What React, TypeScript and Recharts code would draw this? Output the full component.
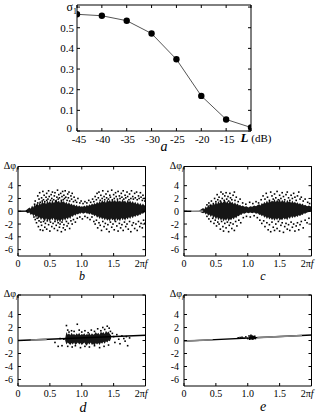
import React from 'react';
import { ComposedChart, LineChart, Line, Area, Scatter, XAxis, YAxis } from 'recharts';

type Pt = [number, number];
type Band = [number, number, number];

// panel a: sigma vs level
const levels = [-45, -40, -35, -30, -25, -20, -15, -10];
const sigma = [0.565, 0.558, 0.534, 0.472, 0.347, 0.17, 0.056, 0.017];
const levelTicks = [-45, -40, -35, -30, -25, -20, -15, -10];
const sigmaTicks = [0, 0.1, 0.2, 0.3, 0.4, 0.5, 0.6];

// panels b-e: phase error vs frequency
const freqTicks = [0, 0.5, 1, 1.5, 2];
const phaseTicks = [-6, -4, -2, 0, 2, 4, 7];

// dense cores of the clouds: [x, low, high]
const coreB: Band[] = [
  [0.12, -0.05, 0.1], [0.15, -0.3, 0.35], [0.18, -0.2, 0.6], [0.2, -0.6, 0.4], [0.22, -0.4, 0.9],
  [0.24, -0.8, 0.6], [0.26, -0.5, 1.1], [0.28, -1.0, 0.8], [0.3, -0.7, 1.3], [0.32, -1.2, 0.9],
  [0.34, -0.9, 1.4], [0.36, -1.4, 1.0], [0.38, -1.0, 1.6], [0.4, -1.3, 1.2], [0.42, -1.6, 1.5],
  [0.44, -1.1, 1.1], [0.46, -1.5, 1.7], [0.48, -1.2, 1.3], [0.5, -1.7, 1.6], [0.52, -1.1, 1.2],
  [0.54, -1.4, 1.8], [0.56, -1.0, 1.3], [0.58, -1.6, 1.5], [0.6, -1.2, 1.9], [0.62, -1.7, 1.4],
  [0.64, -1.3, 1.7], [0.66, -1.8, 1.3], [0.68, -1.2, 1.8], [0.7, -1.6, 1.4], [0.72, -1.1, 1.6],
  [0.74, -1.5, 1.2], [0.76, -1.0, 1.5], [0.78, -1.3, 1.1], [0.8, -0.9, 1.4], [0.82, -1.2, 1.0],
  [0.84, -0.7, 1.2], [0.86, -0.9, 0.9], [0.88, -0.5, 1.1], [0.9, -0.7, 0.8], [0.92, -0.4, 1.0],
  [0.94, -0.5, 0.7], [0.96, -0.3, 0.9], [0.98, -0.4, 0.7], [1.0, -0.2, 0.8], [1.02, -0.4, 0.7],
  [1.04, -0.3, 0.9], [1.06, -0.2, 0.7], [1.08, -0.4, 1.0], [1.1, -0.3, 0.8], [1.12, -0.5, 1.1],
  [1.14, -0.3, 0.9], [1.16, -0.6, 1.2], [1.18, -0.5, 1.0], [1.2, -0.8, 1.3], [1.22, -0.6, 1.1],
  [1.24, -1.0, 1.5], [1.26, -0.8, 1.2], [1.28, -1.2, 1.6], [1.3, -0.9, 1.3], [1.32, -1.3, 1.8],
  [1.34, -1.0, 1.4], [1.36, -1.4, 1.7], [1.38, -1.1, 1.3], [1.4, -1.5, 1.9], [1.42, -1.2, 1.5],
  [1.44, -1.6, 1.8], [1.46, -1.1, 1.4], [1.48, -1.4, 1.9], [1.5, -1.2, 1.5], [1.52, -1.7, 1.8],
  [1.54, -1.1, 1.4], [1.56, -1.5, 1.9], [1.58, -1.2, 1.5], [1.6, -1.6, 1.7], [1.62, -1.0, 1.4],
  [1.64, -1.4, 1.9], [1.66, -1.1, 1.5], [1.68, -1.5, 1.7], [1.7, -1.0, 1.3], [1.72, -1.3, 1.8],
  [1.74, -0.9, 1.4], [1.76, -1.2, 1.7], [1.78, -0.8, 1.3], [1.8, -1.1, 1.6], [1.82, -0.7, 1.2],
  [1.84, -0.9, 1.5], [1.86, -0.6, 1.1], [1.88, -0.8, 1.4], [1.9, -0.5, 1.0], [1.92, -0.6, 1.3],
  [1.94, -0.3, 0.9], [1.96, -0.4, 1.2], [1.98, -0.2, 0.9], [2.0, -0.1, 1.0],
];
const coreC: Band[] = [
  [0.24, -0.05, 0.1], [0.27, -0.2, 0.3], [0.3, -0.3, 0.5], [0.32, -0.2, 0.3], [0.34, -0.5, 0.8],
  [0.36, -0.3, 0.5], [0.38, -0.7, 1.0], [0.4, -0.5, 0.7], [0.42, -0.9, 1.2], [0.44, -0.6, 0.9],
  [0.46, -1.1, 1.3], [0.48, -0.8, 1.0], [0.5, -1.3, 1.5], [0.52, -0.9, 1.1], [0.54, -1.4, 1.6],
  [0.56, -1.0, 1.2], [0.58, -1.5, 1.7], [0.6, -1.1, 1.3], [0.62, -1.6, 1.5], [0.64, -1.2, 1.8],
  [0.66, -1.5, 1.3], [0.68, -1.1, 1.6], [0.7, -1.6, 1.2], [0.72, -1.2, 1.7], [0.74, -1.4, 1.3],
  [0.76, -1.0, 1.5], [0.78, -1.3, 1.1], [0.8, -0.9, 1.4], [0.82, -1.1, 1.0], [0.84, -0.7, 1.2],
  [0.86, -0.8, 0.9], [0.88, -0.5, 1.0], [0.9, -0.6, 0.8], [0.92, -0.3, 0.9], [0.95, -0.4, 0.7],
  [0.98, -0.2, 0.8], [1.01, -0.3, 0.6], [1.04, -0.2, 0.8], [1.07, -0.3, 0.7], [1.1, -0.2, 0.9],
  [1.13, -0.4, 0.8], [1.16, -0.3, 1.0], [1.18, -0.6, 1.1], [1.2, -0.5, 0.9], [1.22, -0.8, 1.3],
  [1.24, -0.6, 1.1], [1.26, -1.0, 1.5], [1.28, -0.8, 1.2], [1.3, -1.2, 1.7], [1.32, -0.9, 1.3],
  [1.34, -1.3, 1.8], [1.36, -1.0, 1.4], [1.38, -1.4, 1.7], [1.4, -1.1, 1.5], [1.42, -1.5, 1.9],
  [1.44, -1.1, 1.4], [1.46, -1.4, 1.8], [1.48, -1.0, 1.5], [1.5, -1.5, 1.9], [1.52, -1.2, 1.4],
  [1.54, -1.4, 1.8], [1.56, -1.0, 1.5], [1.58, -1.3, 1.7], [1.6, -1.1, 1.3], [1.62, -1.4, 1.8],
  [1.64, -0.9, 1.4], [1.66, -1.2, 1.6], [1.68, -0.8, 1.3], [1.7, -1.1, 1.7], [1.72, -0.8, 1.3],
  [1.74, -1.0, 1.5], [1.76, -0.7, 1.2], [1.78, -0.9, 1.4], [1.8, -0.6, 1.1], [1.82, -0.8, 1.3],
  [1.84, -0.5, 1.0], [1.86, -0.6, 1.2], [1.88, -0.3, 0.9], [1.9, -0.4, 1.0], [1.93, -0.2, 0.8],
  [1.96, -0.1, 0.9], [2.0, 0.0, 0.7],
];
const coreD: Band[] = [
  [0.74, 0.0, 0.3], [0.76, -0.6, 1.3], [0.78, -0.3, 0.9], [0.8, -0.5, 1.1], [0.82, -0.7, 0.8],
  [0.84, -0.4, 1.2], [0.86, -0.6, 0.9], [0.88, -0.3, 1.0], [0.9, -0.7, 0.8], [0.92, -0.5, 1.1],
  [0.94, -0.3, 0.9], [0.96, -0.6, 1.2], [0.98, -0.4, 0.8], [1.0, -0.7, 1.0], [1.02, -0.5, 0.9],
  [1.04, -0.3, 1.1], [1.06, -0.6, 0.8], [1.08, -0.8, 1.0], [1.1, -0.4, 0.9], [1.12, -0.6, 1.2],
  [1.14, -0.3, 0.8], [1.16, -0.7, 1.1], [1.18, -0.5, 0.9], [1.2, -0.9, 1.0], [1.22, -0.4, 1.3],
  [1.24, -0.6, 1.0], [1.26, -0.4, 1.2], [1.28, -0.7, 0.9], [1.3, -0.3, 1.4], [1.32, -0.5, 1.1],
  [1.34, -0.2, 1.3], [1.36, -0.5, 1.0], [1.38, -0.1, 1.5], [1.4, -0.3, 1.2], [1.42, 0.0, 1.4],
  [1.44, -0.1, 1.0], [1.46, 0.3, 0.8],
];
const coreE: Band[] = [
  [1.02, 0.3, 0.5], [1.04, 0.15, 0.75], [1.07, 0.1, 0.8], [1.1, 0.2, 0.7], [1.13, 0.35, 0.5],
];

// scattered outliers
const dotsB: Pt[] = [
  [0.26, 1.1], [0.27, 1.6], [0.29, 0.9], [0.31, 2.4], [0.31, 1.3], [0.33, 1.9], [0.34, 2.9], [0.35, 1.4],
  [0.37, 2.1], [0.38, 1.6], [0.39, 3.1], [0.40, 1.8], [0.41, 2.5], [0.42, 1.5], [0.44, 2.2], [0.45, 1.7],
  [0.45, 2.8], [0.47, 1.9], [0.48, 3.2], [0.49, 2.3], [0.51, 1.7], [0.52, 2.6], [0.53, 2.0], [0.54, 3.0],
  [0.56, 1.8], [0.57, 2.4], [0.58, 2.9], [0.59, 1.6], [0.61, 2.2], [0.62, 3.3], [0.63, 1.9], [0.64, 2.6],
  [0.65, 2.1], [0.67, 2.8], [0.68, 1.7], [0.69, 2.3], [0.70, 3.1], [0.71, 1.8], [0.72, 2.5], [0.73, 2.0],
  [0.74, 3.2], [0.75, 2.2], [0.77, 1.7], [0.78, 2.7], [0.79, 2.1], [0.80, 3.0], [0.81, 1.6], [0.83, 2.4],
  [0.84, 1.9], [0.85, 2.8], [0.87, 1.5], [0.88, 2.2], [0.90, 1.7], [0.92, 1.4], [0.94, 2.0], [0.97, 1.3],
  [0.99, 1.6], [1.02, 1.2], [1.05, 1.5], [1.08, 1.3], [1.11, 1.7], [1.14, 1.4], [1.17, 1.9], [1.19, 1.5],
  [1.21, 2.3], [1.23, 1.8], [1.24, 2.8], [1.26, 2.1], [1.27, 3.0], [1.29, 1.7], [1.30, 2.5], [1.32, 2.0],
  [1.33, 3.2], [1.35, 2.3], [1.36, 1.8], [1.38, 2.7], [1.39, 2.1], [1.41, 3.1], [1.42, 1.9], [1.44, 2.5],
  [1.45, 2.2], [1.47, 3.3], [1.48, 1.8], [1.50, 2.6], [1.51, 2.0], [1.53, 2.9], [1.54, 2.3], [1.56, 1.9],
  [1.57, 3.1], [1.59, 2.4], [1.60, 2.0], [1.62, 2.8], [1.63, 2.2], [1.65, 3.2], [1.66, 1.9], [1.68, 2.5],
  [1.69, 2.1], [1.71, 3.0], [1.72, 2.3], [1.74, 1.8], [1.75, 2.7], [1.77, 2.0], [1.78, 3.2], [1.80, 2.3],
  [1.81, 1.9], [1.83, 2.8], [1.84, 2.1], [1.86, 3.0], [1.87, 1.8], [1.89, 2.4], [1.90, 2.0], [1.92, 2.9],
  [1.93, 2.2], [1.95, 1.7], [1.96, 2.5], [1.98, 2.0], [1.99, 1.6],
  [0.25, -0.9], [0.27, -1.3], [0.29, -1.8], [0.30, -1.1], [0.32, -2.4], [0.33, -1.5], [0.35, -2.9],
  [0.36, -1.7], [0.37, -2.2], [0.39, -3.0], [0.40, -1.6], [0.42, -2.5], [0.43, -1.9], [0.45, -2.8],
  [0.46, -1.5], [0.48, -2.1], [0.50, -3.1], [0.51, -1.7], [0.53, -2.4], [0.55, -1.9], [0.57, -2.7],
  [0.58, -1.6], [0.60, -2.2], [0.62, -3.0], [0.63, -1.8], [0.65, -2.5], [0.66, -2.0], [0.68, -3.2],
  [0.69, -1.7], [0.71, -2.6], [0.72, -2.1], [0.74, -2.9], [0.76, -1.6], [0.77, -2.3], [0.79, -1.9],
  [0.81, -2.7], [0.83, -1.5], [0.85, -2.0], [0.87, -1.3], [0.90, -1.7], [0.93, -1.1], [0.97, -0.9],
  [1.01, -1.2], [1.05, -0.8], [1.09, -1.0], [1.13, -1.3], [1.16, -0.9], [1.19, -1.6], [1.21, -2.0],
  [1.23, -1.4], [1.25, -2.6], [1.27, -1.8], [1.29, -2.2], [1.31, -3.0], [1.33, -1.6], [1.35, -2.4],
  [1.37, -1.9], [1.39, -2.8], [1.41, -2.1], [1.43, -3.2], [1.45, -1.7], [1.47, -2.5], [1.49, -2.0],
  [1.51, -2.9], [1.53, -1.6], [1.55, -2.3], [1.57, -3.1], [1.59, -1.9], [1.61, -2.6], [1.63, -2.1],
  [1.65, -3.0], [1.67, -1.7], [1.69, -2.4], [1.71, -2.0], [1.73, -2.8], [1.75, -1.6], [1.77, -3.2],
  [1.79, -2.2], [1.81, -1.8], [1.83, -2.7], [1.85, -2.0], [1.87, -3.0], [1.89, -1.6], [1.91, -2.4],
  [1.93, -1.9], [1.95, -2.6], [1.97, -1.4], [1.99, -1.9],
];
const dotsC: Pt[] = [
  [0.36, 1.0], [0.39, 1.3], [0.41, 0.9], [0.43, 1.6], [0.46, 1.2], [0.48, 2.0], [0.50, 1.5], [0.52, 2.6],
  [0.53, 1.8], [0.55, 2.2], [0.57, 1.6], [0.58, 3.0], [0.60, 2.0], [0.61, 2.7], [0.63, 1.7], [0.64, 2.4],
  [0.66, 2.9], [0.67, 1.9], [0.69, 2.3], [0.70, 1.6], [0.72, 2.8], [0.73, 2.1], [0.75, 1.8], [0.77, 2.5],
  [0.79, 3.0], [0.80, 1.7], [0.82, 2.2], [0.85, 1.5], [0.88, 1.9], [0.92, 1.3], [0.97, 1.1], [1.03, 1.4],
  [1.08, 1.2], [1.13, 1.5], [1.17, 1.3], [1.21, 1.8], [1.24, 2.4], [1.27, 1.9], [1.29, 2.8], [1.31, 2.2],
  [1.34, 1.7], [1.36, 3.0], [1.38, 2.4], [1.40, 1.9], [1.42, 2.7], [1.44, 2.1], [1.46, 3.1], [1.48, 1.8],
  [1.50, 2.5], [1.52, 2.0], [1.54, 2.9], [1.56, 2.3], [1.58, 1.8], [1.60, 2.6], [1.62, 3.0], [1.64, 2.1],
  [1.66, 1.7], [1.68, 2.5], [1.70, 2.0], [1.72, 2.8], [1.74, 2.2], [1.76, 1.7], [1.78, 2.4], [1.80, 3.0],
  [1.82, 1.9], [1.84, 2.2], [1.87, 1.6], [1.90, 1.9], [1.94, 1.4], [1.97, 1.2],
  [0.36, -0.8], [0.39, -1.2], [0.42, -1.6], [0.45, -1.1], [0.47, -1.9], [0.49, -1.4], [0.51, -2.3],
  [0.53, -1.7], [0.55, -2.0], [0.57, -2.8], [0.59, -1.6], [0.61, -2.4], [0.62, -3.1], [0.64, -1.9],
  [0.66, -2.6], [0.68, -1.7], [0.70, -3.2], [0.71, -2.2], [0.73, -1.8], [0.75, -2.7], [0.77, -2.0],
  [0.79, -3.0], [0.81, -1.6], [0.83, -2.3], [0.86, -1.4], [0.89, -1.8], [0.93, -1.0], [0.98, -0.8],
  [1.04, -0.9], [1.10, -0.7], [1.15, -1.0], [1.19, -1.4], [1.22, -1.9], [1.25, -1.5], [1.27, -2.4],
  [1.30, -1.8], [1.32, -2.9], [1.34, -2.1], [1.36, -3.2], [1.38, -1.7], [1.40, -2.5], [1.42, -3.0],
  [1.44, -2.0], [1.46, -2.7], [1.48, -1.6], [1.50, -3.1], [1.52, -2.2], [1.54, -1.8], [1.56, -3.3],
  [1.58, -2.4], [1.60, -1.9], [1.62, -2.8], [1.64, -2.1], [1.66, -3.0], [1.68, -1.7], [1.70, -2.5],
  [1.72, -2.0], [1.74, -3.1], [1.76, -2.3], [1.78, -1.8], [1.80, -2.9], [1.82, -2.1], [1.84, -1.6],
  [1.87, -2.6], [1.90, -1.4], [1.93, -1.8], [1.96, -1.1],
];
const dotsD: Pt[] = [
  [0.58, -0.3], [0.63, -0.9], [0.66, 0.3], [0.69, -0.8], [0.72, 0.2], [0.76, 2.3], [0.78, 1.6], [0.8, 1.3],
  [0.84, 1.5], [0.88, 1.4], [0.93, 2.5], [0.96, 1.6], [1.0, 1.3], [1.05, 1.5], [1.1, 1.2], [1.15, 1.6],
  [1.2, 1.4], [1.25, 1.8], [1.3, 1.5], [1.33, 2.0], [1.36, 1.7], [1.4, 2.2], [1.43, 1.9], [1.45, 1.4],
  [1.48, 1.1], [1.5, 0.6], [1.52, -0.3], [1.55, 0.9], [1.58, 0.2], [1.6, -0.5], [1.63, 0.7], [1.66, 0.3],
  [1.68, -0.1], [1.7, 0.6], [1.72, -0.8], [1.75, 0.4], [0.78, -0.9], [0.85, -1.0], [0.9, -0.8],
  [0.98, -1.1], [1.05, -0.9], [1.12, -1.0], [1.2, -0.8], [1.28, -1.1], [1.35, -0.9], [1.42, -0.7],
];
const dotsE: Pt[] = [
  [0.85, 0.4], [0.88, 0.45], [0.91, 0.5], [0.94, 0.35], [0.97, 0.55], [1.0, 0.3], [1.02, 0.7],
  [1.03, 0.2], [1.04, 0.5], [1.05, 0.8], [1.06, 0.4], [1.07, 0.6], [1.08, 0.25], [1.09, 0.55],
  [1.1, 0.4], [1.11, 0.65], [1.12, 0.3],
];

// line traces (black) and their lighter grey stretches
const darkB: Pt[] = [[0, 0], [0.15, 0.02]];
const darkC: Pt[] = [[0, 0], [0.12, 0]];
const greyC: Pt[] = [[0.12, 0], [0.3, 0.02]];
const darkD: Pt[] = [[0, 0], [2, 0.8]];
const greyD: Pt[] = [[0.2, 0.08], [0.45, 0.18]];
const darkE: Pt[] = [[0, -0.1], [2, 0.85]];
const greyE: Pt[] = [[0, -0.1], [0.45, 0.11]];
const greyE2: Pt[] = [[1.15, 0.44], [1.85, 0.78]];

const FONT = '"Liberation Serif", "DejaVu Serif", serif';

const LevelTick = (p: any) => {
  const { x, y, payload } = p;
  if (payload.value === -10) {
    return (
      <text x={x + 5} y={y} dy="0.71em" textAnchor="middle" fontFamily={FONT} fontSize={11} fill="#000">
        <tspan fontStyle="italic" fontWeight="bold" fontSize={13}>L</tspan>
        <tspan> (dB)</tspan>
      </text>
    );
  }
  return (
    <text x={x + (payload.value === -45 ? 2 : 1)} y={y + 1} dy="0.71em" textAnchor="middle" fontFamily={FONT} fontSize={11} fill="#000">
      {payload.value}
    </text>
  );
};

const SigmaTick = (p: any) => {
  const { x, y, payload } = p;
  if (payload.value === 0.6) {
    return (
      <text x={x + 3} y={y} dy="0.36em" textAnchor="end" fontFamily={FONT} fontSize={12} fill="#000">
        σ<tspan fontSize={8} dy={3}>1</tspan>
      </text>
    );
  }
  const isZero = payload.value === 0;
  return (
    <text x={isZero ? x - 2 : x} y={isZero ? y - 3 : y} dy="0.36em" textAnchor="end" fontFamily={FONT} fontSize={11} fill="#000">
      {isZero ? '0' : payload.value.toFixed(1)}
    </text>
  );
};

const FreqTick = (p: any) => {
  const { x, y, payload } = p;
  if (payload.value === 2) {
    return (
      <text x={x + 2} y={y} dy="0.71em" textAnchor="end" fontFamily={FONT} fontSize={10} fill="#000">
        2π<tspan fontStyle="italic">f</tspan>
      </text>
    );
  }
  const t = payload.value === 0 ? '0' : payload.value.toFixed(1);
  return (
    <text x={x} y={y} dy="0.71em" textAnchor="middle" fontFamily={FONT} fontSize={10} fill="#000">
      {t}
    </text>
  );
};

const PhaseTick = (p: any) => {
  const { x, y, payload } = p;
  if (payload.value === 7) {
    return (
      <text x={x + 5} y={y} dy="0.2em" textAnchor="end" fontFamily={FONT} fontSize={10} fill="#000">
        Δφ<tspan fontSize={7} fontStyle="italic" dy={2}>f</tspan>
      </text>
    );
  }
  return (
    <text x={x} y={y} dy="0.36em" textAnchor="end" fontFamily={FONT} fontSize={10} fill="#000">
      {payload.value}
    </text>
  );
};

const blank = () => '';
const axisStroke = { stroke: '#000', strokeWidth: 1 };

const dotShape = (p: any) => <rect x={p.cx - 0.8} y={p.cy - 0.8} width={1.6} height={1.6} fill="#000" />;
const sigmaDot = (p: any) => <circle key={p.index} cx={p.cx} cy={p.cy} r={3.2} fill="#000" />;

const toPts = (a: Pt[]) => a.map(([x, y]) => ({ x, y }));

function SigmaChart() {
  const data = levels.map((L, i) => ({ x: L, y: sigma[i] }));
  return (
    <LineChart width={318} height={150} data={data} margin={{ top: 4, right: 66, bottom: 0, left: 37 }}>
      <XAxis dataKey="x" type="number" domain={[-45, -10]} ticks={levelTicks} allowDataOverflow
        height={19} tickSize={-3} tickMargin={6} axisLine={axisStroke} tickLine={axisStroke} tick={LevelTick} interval={0} />
      <XAxis xAxisId="t" orientation="top" dataKey="x" type="number" domain={[-45, -10]} ticks={levelTicks}
        allowDataOverflow height={1} tickSize={-3} tickFormatter={blank} axisLine={axisStroke} tickLine={axisStroke} interval={0} />
      <YAxis dataKey="y" type="number" domain={[0, 0.61]} ticks={sigmaTicks} allowDataOverflow width={40}
        tickSize={-3} tickMargin={6} axisLine={axisStroke} tickLine={axisStroke} tick={SigmaTick} interval={0} />
      <YAxis yAxisId="r" orientation="right" type="number" domain={[0, 0.61]} ticks={sigmaTicks} allowDataOverflow
        width={1} tickSize={-3} tickFormatter={blank} axisLine={axisStroke} tickLine={axisStroke} interval={0} />
      <Line dataKey="y" type="linear" stroke="#555" strokeWidth={1} dot={sigmaDot} isAnimationActive={false} />
    </LineChart>
  );
}

interface PanelProps {
  left: number;
  top: number;
  height: number;
  marginTop: number;
  xAxisH: number;
  core: Band[];
  dots: Pt[];
  dark: Pt[];
  greys: Pt[][];
}

function PhasePanel({ left, top, height, marginTop, xAxisH, core, dots, dark, greys }: PanelProps) {
  const bandData = core.map(([x, lo, hi]) => ({ x, band: [lo, hi] }));
  return (
    <div style={{ position: 'absolute', left, top }}>
      <ComposedChart width={160} height={height} data={bandData}
        margin={{ top: marginTop, right: 13.5, bottom: 0, left: 0 }}>
        <XAxis dataKey="x" type="number" domain={[0, 2]} ticks={freqTicks} allowDataOverflow height={xAxisH}
          tickSize={-3} tickMargin={6.5} axisLine={axisStroke} tickLine={axisStroke} tick={FreqTick} interval={0} />
        <XAxis xAxisId="t" orientation="top" dataKey="x" type="number" domain={[0, 2]} ticks={freqTicks}
          allowDataOverflow height={1} tickSize={-3} tickFormatter={blank} axisLine={axisStroke} tickLine={axisStroke} interval={0} />
        <YAxis dataKey="y" type="number" domain={[-7, 7]} ticks={phaseTicks} allowDataOverflow width={18}
          tickSize={-3} tickMargin={8} axisLine={axisStroke} tickLine={axisStroke} tick={PhaseTick} interval={0} />
        <YAxis yAxisId="r" orientation="right" type="number" domain={[-7, 7]} ticks={phaseTicks} allowDataOverflow
          width={1} tickSize={-3} tickFormatter={blank} axisLine={axisStroke} tickLine={axisStroke} interval={0} />
        <Area dataKey="band" type="linear" stroke="none" fill="#0a0a0a" fillOpacity={0.95} isAnimationActive={false} />
        <Line data={toPts(dark)} dataKey="y" type="linear" stroke="#000" strokeWidth={1.4} dot={false} isAnimationActive={false} />
        {greys.map((g, i) => (
          <Line key={i} data={toPts(g)} dataKey="y" type="linear" stroke="#888" strokeWidth={1.6} dot={false} isAnimationActive={false} />
        ))}
        <Scatter data={toPts(dots)} dataKey="y" shape={dotShape} isAnimationActive={false} />
      </ComposedChart>
    </div>
  );
}

export default function App() {
  const lab = { fontFamily: FONT, fontStyle: 'italic' as const, fill: '#000' };
  return (
    <div style={{ position: 'absolute', left: 0, top: 0, width: 318, height: 415, background: '#fff' }}>
      <div style={{ position: 'absolute', left: 0, top: 0 }}>
        <SigmaChart />
      </div>
      <PhasePanel left={0} top={150} height={130} marginTop={15.5} xAxisH={24} core={coreB} dots={dotsB} dark={darkB} greys={[]} />
      <PhasePanel left={166} top={150} height={130} marginTop={15.5} xAxisH={24} core={coreC} dots={dotsC} dark={darkC} greys={[greyC]} />
      <PhasePanel left={0} top={280} height={135} marginTop={14} xAxisH={29} core={coreD} dots={dotsD} dark={darkD} greys={[greyD]} />
      <PhasePanel left={166} top={280} height={135} marginTop={14} xAxisH={29} core={coreE} dots={dotsE} dark={darkE} greys={[greyE, greyE2]} />
      <svg width={318} height={415} style={{ position: 'absolute', left: 0, top: 0, pointerEvents: 'none' }}>
        <text x={164} y={151} textAnchor="middle" fontSize={14} {...lab}>a</text>
        <text x={82} y={280} textAnchor="middle" fontSize={12} {...lab}>b</text>
        <text x={263} y={280} textAnchor="middle" fontSize={12} {...lab}>c</text>
        <text x={83} y={412} textAnchor="middle" fontSize={14} {...lab}>d</text>
        <text x={263} y={411} textAnchor="middle" fontSize={14} {...lab}>e</text>
      </svg>
    </div>
  );
}
